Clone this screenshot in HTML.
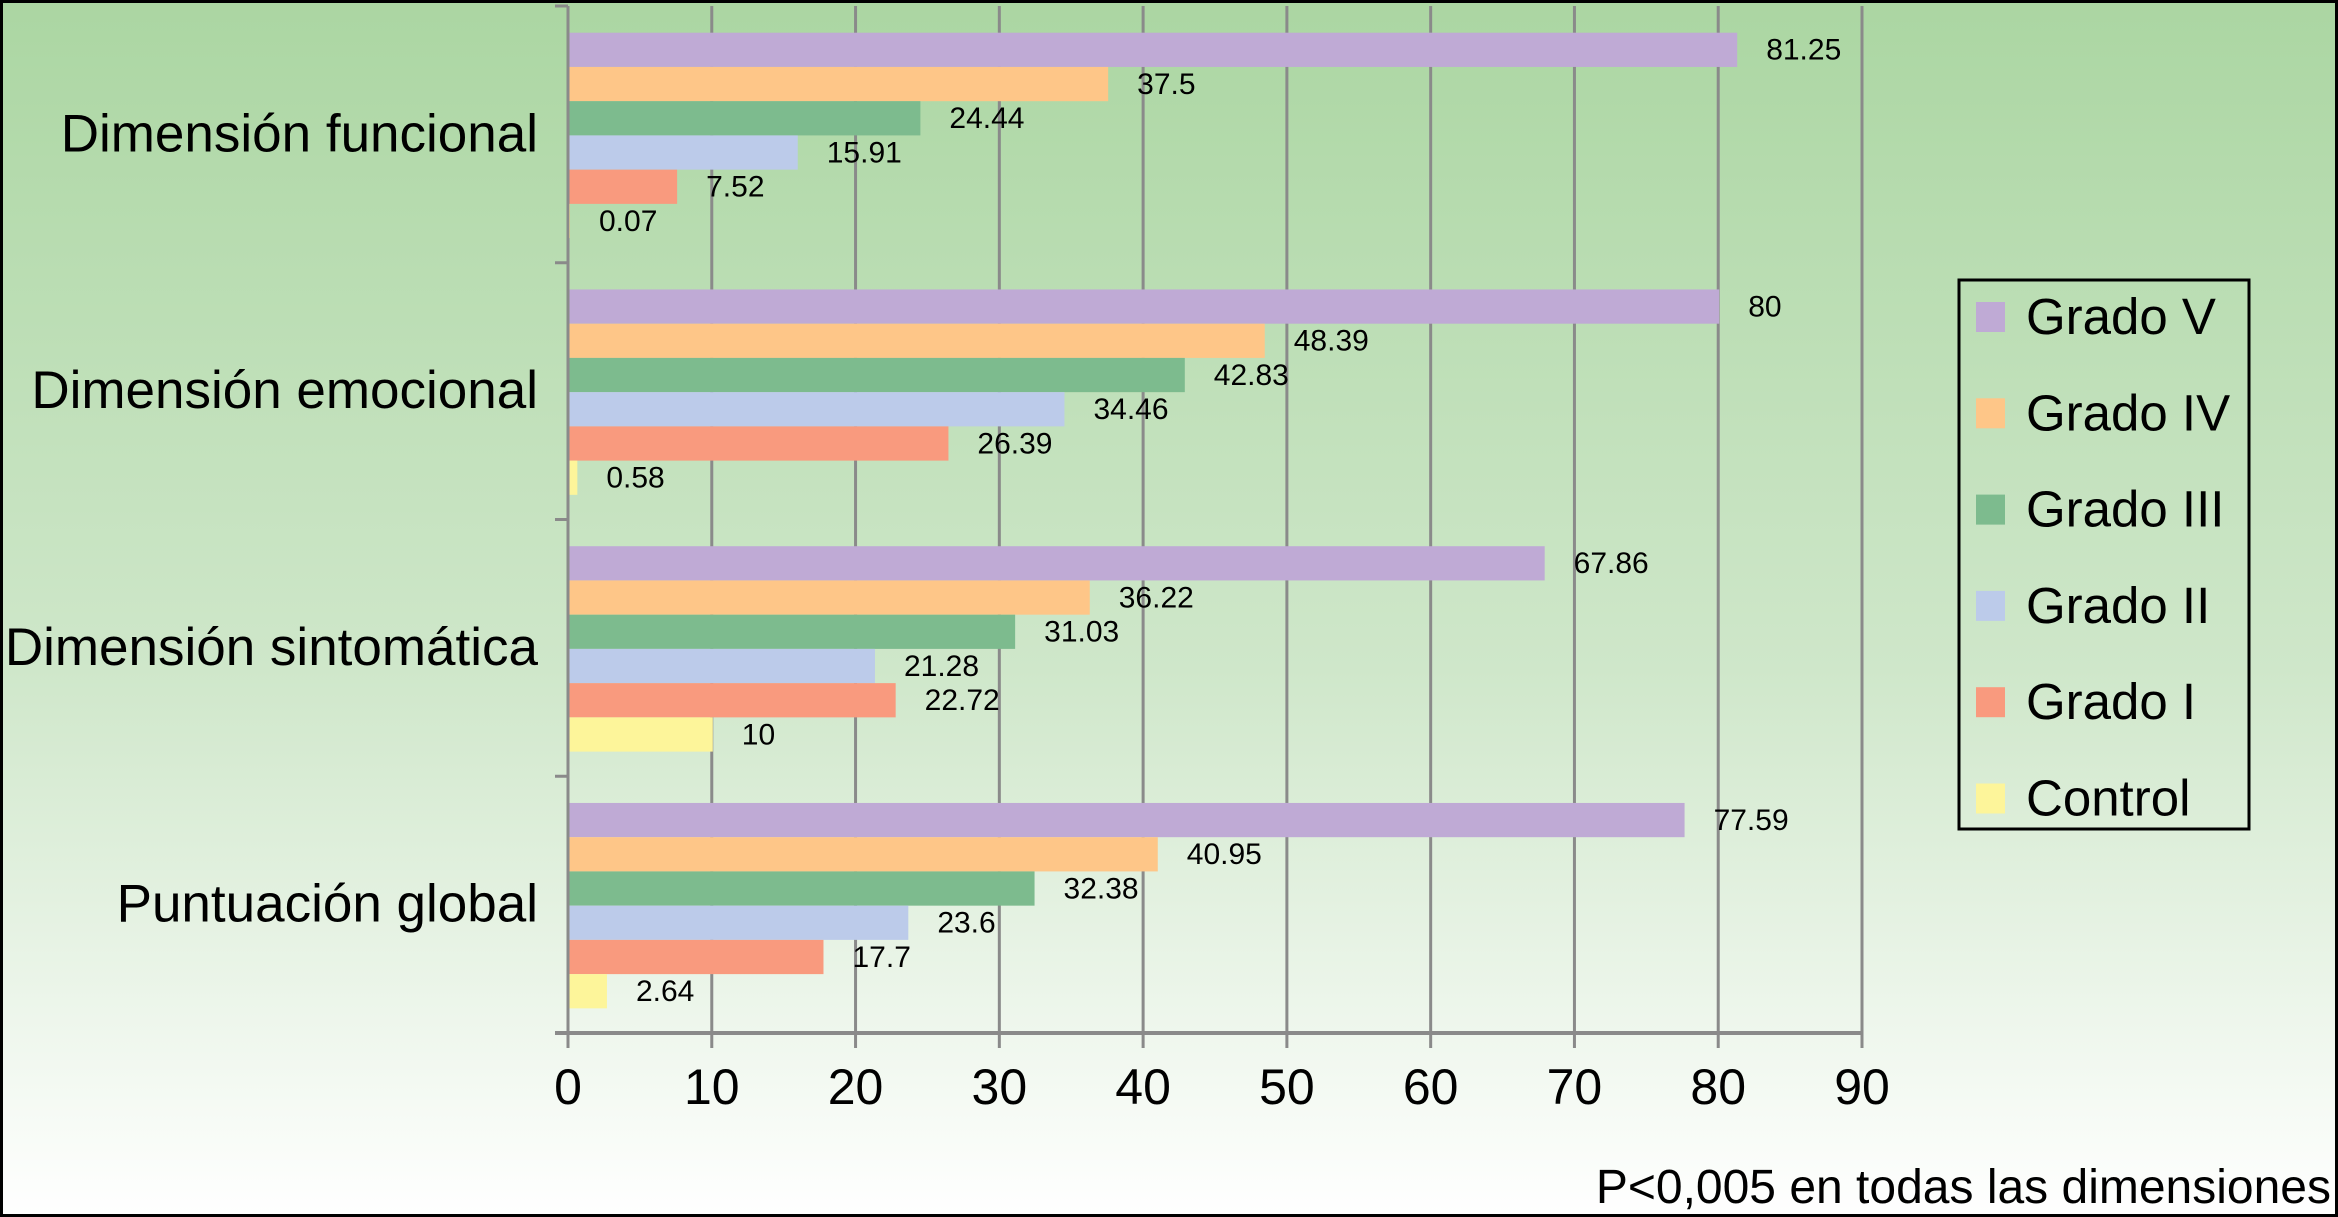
<!DOCTYPE html>
<html><head><meta charset="utf-8">
<style>
html,body{margin:0;padding:0;}
body{width:2338px;height:1217px;overflow:hidden;font-family:"Liberation Sans",Arial,sans-serif;}
svg{display:block;}
</style></head>
<body>
<svg id="chart" width="2338" height="1217" viewBox="0 0 2338 1217" xmlns="http://www.w3.org/2000/svg">
<defs>
<linearGradient id="bg" x1="0" y1="0" x2="0" y2="1">
<stop offset="0" stop-color="#abd6a2"/>
<stop offset="0.55" stop-color="#cfe7ca"/>
<stop offset="1" stop-color="#ffffff"/>
</linearGradient>
</defs>
<rect x="0" y="0" width="2338" height="1217" fill="url(#bg)"/>
<g id="grid"></g>
<g id="bars"></g>
<g id="labels"></g>
<g id="axes"></g>
<g id="legend"></g>
<text x="2331" y="1203" text-anchor="end" font-size="48" fill="#000">P&lt;0,005 en todas las dimensiones</text>
<rect x="1.5" y="1.5" width="2335" height="1214" fill="none" stroke="#000" stroke-width="3"/>
</svg>
<script>
const categories = ["Dimensión funcional","Dimensión emocional","Dimensión sintomática","Puntuación global"];
const seriesNames = ["Grado V","Grado IV","Grado III","Grado II","Grado I","Control"];
const gradoV = [81.25, 80, 67.86, 77.59];
const gradoIV = [37.5, 48.39, 36.22, 40.95];
const gradoIII = [24.44, 42.83, 31.03, 32.38];
const gradoII = [15.91, 34.46, 21.28, 23.6];
const gradoI = [7.52, 26.39, 22.72, 17.7];
const control = [0.07, 0.58, 10, 2.64];
const xTicks = [0,10,20,30,40,50,60,70,80,90];

const series = [gradoV, gradoIV, gradoIII, gradoII, gradoI, control];
const colors = ["#bfaad5","#fec688","#7dbb8e","#bccbea","#f99a7e","#fdf59a"];
const NS = "http://www.w3.org/2000/svg";
const X0 = 568, X1 = 1862, YT = 6, YB = 1033;
const xs = v => X0 + (v / 90) * (X1 - X0);
const band = (YB - YT) / categories.length;
const barH = band / 7.5;
function mk(tag, attrs, parent){ const e = document.createElementNS(NS, tag); for (const k in attrs) e.setAttribute(k, attrs[k]); parent.appendChild(e); return e; }

const grid = document.getElementById('grid');
xTicks.forEach(t => {
  if (t === 0) return;
  const l = mk('line', {x1: xs(t), x2: xs(t), y1: YT, y2: YB + 15, stroke: '#8a8a8a', 'stroke-width': 3}, grid);
  
  
});

const axes = document.getElementById('axes');
const ya = mk('line', {x1: X0, x2: X0, y1: YT, y2: YB + 15, stroke: '#8a8a8a', 'stroke-width': 3}, axes);


const xa = mk('line', {x1: X0 - 13, x2: X1, y1: YB, y2: YB, stroke: '#8a8a8a', 'stroke-width': 4}, axes);


for (let i = 0; i <= categories.length; i++) {
  const y = YT + i * band;
  const tk = mk('line', {x1: X0 - 13, x2: X0, y1: y, y2: y, stroke: '#8a8a8a', 'stroke-width': 3}, axes);
  
  
}
xTicks.forEach(t => {
  const tx = mk('text', {x: xs(t), y: 1104, 'text-anchor': 'middle', 'font-size': 50, fill: '#000'}, axes);
  tx.textContent = t;
  
  
});
categories.forEach((c, i) => {
  const tx = mk('text', {x: 538, y: YT + i * band + band / 2 + 3, 'text-anchor': 'end', 'dominant-baseline': 'middle', 'font-size': 53, fill: '#000'}, axes);
  tx.textContent = c;
  
  
});

const bars = document.getElementById('bars');
const labels = document.getElementById('labels');
categories.forEach((c, ci) => {
  series.forEach((s, si) => {
    const v = s[ci];
    const y = YT + ci * band + barH * 0.78 + si * barH;
    const r = mk('rect', {x: X0 + 1, y: y, width: Math.max(xs(v) - X0, 1), height: barH, fill: colors[si]}, bars);
    
    
    const t = mk('text', {x: xs(v) + 30, y: y + barH / 2 + 2, 'dominant-baseline': 'middle', 'font-size': 30, fill: '#000'}, labels);
    t.textContent = String(v);
    
    
  });
});

const legend = document.getElementById('legend');
const lb = mk('rect', {x: 1959, y: 280, width: 290, height: 549, fill: 'none', stroke: '#000', 'stroke-width': 3}, legend);


seriesNames.forEach((n, i) => {
  const cy = 317 + i * 96.3;
  const g = mk('g', {}, legend);
  
  
  mk('rect', {x: 1976, y: cy - 15, width: 29, height: 30, fill: colors[i]}, g);
  const t = mk('text', {x: 2026, y: cy + 17, 'font-size': 51, fill: '#000'}, g);
  t.textContent = n;
});
</script>
</body></html>
